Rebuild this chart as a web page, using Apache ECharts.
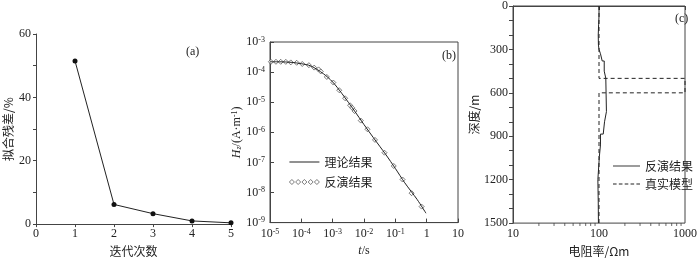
<!DOCTYPE html>
<html><head><meta charset="utf-8">
<script src="https://cdn.jsdelivr.net/npm/echarts@6/dist/echarts.min.js"></script>
<style>html,body{margin:0;padding:0;background:#fff}#c{width:700px;height:262px}</style>
</head><body><div id="c"></div>
<script>
// ---- panel (a) ----
const iterations = [1, 2, 3, 4, 5];
const misfit = [51.5, 6.2, 3.3, 1.0, 0.4];
// ---- panel (b) ----
const theoryT = [1e-5, 2e-5, 5e-5, 1e-4, 2e-4, 5e-4, 1e-3, 2e-3, 5e-3, 1e-2, 2e-2, 5e-2, 0.1, 0.2, 0.5, 0.95];
const theoryH = [2.2e-4, 2.2e-4, 2.1e-4, 1.9e-4, 1.6e-4, 8.9e-5, 4.7e-5, 1.9e-5, 5.1e-6, 1.8e-6, 6.6e-7, 1.8e-7, 6.3e-8, 2.1e-8, 5.8e-9, 2.05e-9];
const invT = [1.07e-5, 1.55e-5, 2.2e-5, 3.2e-5, 4.6e-5, 7.1e-5, 1.07e-4, 1.74e-4, 2.57e-4, 3.55e-4, 4.17e-4, 6.5e-4, 1.05e-3, 1.62e-3, 2.5e-3, 3.6e-3, 4.2e-3, 5.0e-3, 7.9e-3, 1.29e-2, 2.24e-2, 4.5e-2, 8.9e-2, 0.17, 0.33, 0.69];
const invH = [2.2e-4, 2.2e-4, 2.2e-4, 2.19e-4, 2.1e-4, 2.04e-4, 1.86e-4, 1.70e-4, 1.41e-4, 1.23e-4, 1.05e-4, 6.9e-5, 4.5e-5, 2.5e-5, 1.35e-5, 7.9e-6, 6.5e-6, 5.1e-6, 2.45e-6, 1.26e-6, 5.6e-7, 2.1e-7, 7.6e-8, 2.7e-8, 9.5e-9, 3.4e-9];
// ---- panel (c) ----
const invLayerTop = [0, 70, 130, 200, 270, 300, 330, 380, 450, 500, 730, 800, 885, 960, 1040, 1200, 1350];
const invLayerRes = [100, 99, 98, 98.5, 100, 104, 109, 115, 120, 122, 116, 112, 104, 101, 97, 98, 98.5];
const trueLayerTop = [0, 500, 600];
const trueLayerRes = [100, 1000, 100];
const maxDepth = 1500;
const resMinorTicks = [20, 30, 40, 50, 60, 70, 80, 90, 200, 300, 400, 500, 600, 700, 800, 900];
const depthTicks = [0, 300, 600, 900, 1200, 1500];

function stepProfile(tops, res, bottom) {
  const out = [];
  for (let i = 0; i < tops.length; i++) {
    const b = i + 1 < tops.length ? tops[i + 1] : bottom;
    out.push([res[i], tops[i]]);
    out.push([res[i], b]);
  }
  return out;
}
const pair = (xs, ys) => xs.map((x, i) => [x, ys[i]]);

const SERIF = "'Liberation Serif','Noto Sans CJK SC',serif";
const CJK = "'Noto Sans CJK SC','Liberation Serif',serif";
const AX = '#444';
const TXT = '#222';
const lblBase = { color: TXT, fontFamily: SERIF, fontSize: 12 };
const supRich = { sup: { fontSize: 8, verticalAlign: 'top', fontFamily: SERIF, color: TXT, padding: [0, 0, 5, 0] } };
const powLabel = v => {
  const e = Math.round(Math.log10(v));
  if (e === 0) return '1';
  if (e === 1) return '10';
  return '10{sup|' + e + '}';
};
const ICON_SOLID = 'path://M0,0H30V1H0Z';
const ICON_DASH = 'path://M0,0H4V1H0Z M6.5,0H10.5V1H6.5Z M13,0H17V1H13Z M19.5,0H23.5V1H19.5Z M26,0H30V1H26Z';
const ICON_DIAMONDS = 'path://M2.5,0L5,2.5L2.5,5L0,2.5Z M8.75,0L11.25,2.5L8.75,5L6.25,2.5Z M15,0L17.5,2.5L15,5L12.5,2.5Z M21.25,0L23.75,2.5L21.25,5L18.75,2.5Z M27.5,0L30,2.5L27.5,5L25,2.5Z';

const chart = echarts.init(document.getElementById('c'), null, { renderer: 'canvas' });
chart.setOption({
  animation: false,
  backgroundColor: '#fff',
  textStyle: { fontFamily: SERIF },
  title: [
    { text: '(a)', left: 181, top: 41, textStyle: { fontFamily: SERIF, fontSize: 12, fontWeight: 'normal', color: TXT } },
    { text: '(b)', left: 437, top: 45, textStyle: { fontFamily: SERIF, fontSize: 12, fontWeight: 'normal', color: TXT } },
    { text: '(c)', left: 670, top: 8, textStyle: { fontFamily: SERIF, fontSize: 12, fontWeight: 'normal', color: TXT } }
  ],
  grid: [
    { left: 36, top: 34, width: 195, height: 196 },
    { left: 270, top: 42, width: 188, height: 187, show: true, borderColor: AX, borderWidth: 1 },
    { left: 513, top: 5, width: 177, height: 224, show: true, borderColor: AX, borderWidth: 1 }
  ],
  legend: [
    {
      orient: 'vertical', left: 284, top: 151, itemWidth: 30, itemHeight: 5, itemGap: 8,
      textStyle: { fontFamily: CJK, fontSize: 12, color: TXT },
      formatter: n => ({ theory: '理论结果', invB: '反演结果' })[n],
      data: [
        { name: 'theory', icon: ICON_SOLID, itemHeight: 1 },
        { name: 'invB', icon: ICON_DIAMONDS, itemStyle: { color: '#fff', borderColor: '#333', borderWidth: 0.8 } }
      ]
    },
    {
      orient: 'vertical', left: 608, top: 155, itemWidth: 27, itemHeight: 1, itemGap: 6,
      textStyle: { fontFamily: CJK, fontSize: 12, color: TXT },
      formatter: n => ({ invC: '反演结果', trueC: '真实模型' })[n],
      data: [{ name: 'invC', icon: ICON_SOLID }, { name: 'trueC', icon: ICON_DASH }]
    }
  ],
  xAxis: [
    {
      gridIndex: 0, type: 'value', min: 0, max: 5, interval: 1,
      axisLine: { show: true, lineStyle: { color: AX } },
      axisTick: { show: true, length: 3, lineStyle: { color: AX } },
      axisLabel: Object.assign({ margin: 4 }, lblBase),
      splitLine: { show: false },
      name: '迭代次数', nameLocation: 'middle', nameGap: 18,
      nameTextStyle: { fontFamily: CJK, fontSize: 12, color: TXT }
    },
    {
      gridIndex: 1, type: 'log', logBase: 10, min: 1e-5, max: 10,
      axisLine: { show: true, lineStyle: { color: AX } },
      axisTick: { show: true, inside: true, length: 4, lineStyle: { color: AX } },
      axisLabel: Object.assign({ margin: 5, formatter: powLabel, rich: supRich }, lblBase),
      splitLine: { show: false },
      name: '{i|t}/s', nameLocation: 'middle', nameGap: 13,
      nameTextStyle: { fontFamily: SERIF, fontSize: 12, color: TXT, rich: { i: { fontStyle: 'italic', fontFamily: SERIF, fontSize: 12, color: TXT } } }
    },
    {
      gridIndex: 2, type: 'log', logBase: 10, min: 10, max: 1000, position: 'bottom',
      axisLine: { show: true, lineStyle: { color: AX } },
      axisTick: { show: true, length: 4, lineStyle: { color: AX } },
      axisLabel: Object.assign({ margin: 5, formatter: v => String(Math.round(v)) }, lblBase),
      splitLine: { show: false },
      name: '电阻率/Ωm', nameLocation: 'middle', nameGap: 17,
      nameTextStyle: { fontFamily: CJK, fontSize: 12, color: TXT }
    }
  ],
  yAxis: [
    {
      gridIndex: 0, type: 'value', min: 0, max: 60, interval: 10,
      axisLine: { show: true, lineStyle: { color: AX } },
      axisTick: { show: true, length: 3, lineStyle: { color: AX } },
      axisLabel: Object.assign({ margin: 5, formatter: v => (v % 20 === 0 ? String(v) : '') }, lblBase),
      splitLine: { show: false },
      name: '拟合残差/%', nameLocation: 'middle', nameGap: 22, nameRotate: 90,
      nameTextStyle: { fontFamily: CJK, fontSize: 12, color: TXT }
    },
    {
      gridIndex: 1, type: 'log', logBase: 10, min: 1e-9, max: 1e-3,
      axisLine: { show: true, lineStyle: { color: AX } },
      axisTick: { show: true, inside: true, length: 4, lineStyle: { color: AX } },
      axisLabel: Object.assign({ margin: 5, formatter: powLabel, rich: supRich }, lblBase),
      splitLine: { show: false },
      name: '{i|H}{sub|z}/(A·m{sup|-1})', nameLocation: 'middle', nameGap: 27, nameRotate: 90,
      nameTextStyle: { fontFamily: SERIF, fontSize: 12, color: TXT, rich: {
        i: { fontStyle: 'italic', fontFamily: SERIF, fontSize: 12, color: TXT },
        sub: { fontStyle: 'italic', fontFamily: SERIF, fontSize: 8, color: TXT, verticalAlign: 'bottom' },
        sup: { fontFamily: SERIF, fontSize: 8, color: TXT, verticalAlign: 'top' } } }
    },
    {
      gridIndex: 2, type: 'value', min: 0, max: maxDepth, interval: 100, inverse: true,
      axisLine: { show: true, lineStyle: { color: AX } },
      axisTick: { show: true, length: 4, lineStyle: { color: AX } },
      axisLabel: Object.assign({ margin: 5, formatter: v => (depthTicks.includes(v) ? String(v) : '') }, lblBase),
      splitLine: { show: false },
      name: '深度/m', nameLocation: 'middle', nameGap: 31, nameRotate: 90,
      nameTextStyle: { fontFamily: CJK, fontSize: 12, color: TXT }
    }
  ],
  series: [
    {
      name: 'misfit', type: 'line', xAxisIndex: 0, yAxisIndex: 0,
      data: pair(iterations, misfit),
      symbol: 'circle', symbolSize: 5,
      itemStyle: { color: '#111' }, lineStyle: { color: '#222', width: 1 }
    },
    {
      name: 'theory', type: 'line', xAxisIndex: 1, yAxisIndex: 1,
      data: pair(theoryT, theoryH), smooth: 0.3, showSymbol: false, symbol: 'none',
      lineStyle: { color: '#222', width: 1 }, itemStyle: { color: '#222' }
    },
    {
      name: 'invB', type: 'scatter', xAxisIndex: 1, yAxisIndex: 1,
      data: pair(invT, invH), symbol: 'diamond', symbolSize: 5,
      itemStyle: { color: '#fff', borderColor: '#333', borderWidth: 0.8 }
    },
    {
      name: 'trueC', type: 'line', xAxisIndex: 2, yAxisIndex: 2,
      data: stepProfile(trueLayerTop, trueLayerRes, maxDepth), showSymbol: false, symbol: 'none',
      lineStyle: { color: '#222', width: 1, type: [4, 3] }, itemStyle: { color: '#222' }
    },
    {
      name: 'invC', type: 'line', xAxisIndex: 2, yAxisIndex: 2,
      data: stepProfile(invLayerTop, invLayerRes, maxDepth), showSymbol: false, symbol: 'none',
      lineStyle: { color: '#222', width: 1 }, itemStyle: { color: '#222' }
    },
    {
      name: 'minorTicksC', type: 'scatter', xAxisIndex: 2, yAxisIndex: 2,
      data: resMinorTicks.map(v => [v, maxDepth]), symbol: 'rect', symbolSize: [1, 3], symbolOffset: [0, 1.5],
      clip: false, silent: true, z: 1, itemStyle: { color: AX }
    }
  ]
});
</script></body></html>
